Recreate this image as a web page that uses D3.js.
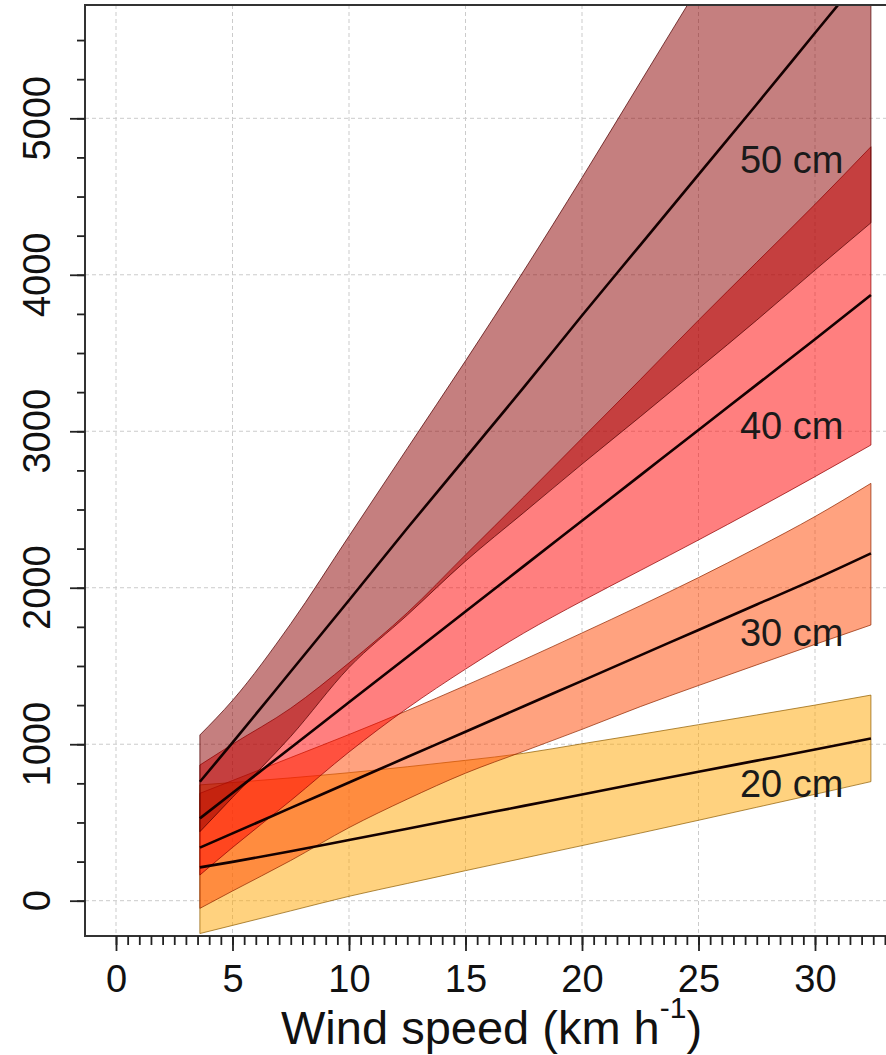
<!DOCTYPE html>
<html>
<head>
<meta charset="utf-8">
<script src="https://cdn.jsdelivr.net/npm/d3@7"></script>
<style>
  body { margin: 0; background: #fff; }
  svg { display: block; }
  text { font-family: "Liberation Sans", Arial, sans-serif; }
</style>
</head>
<body>
<svg id="chart" width="886" height="1055"></svg>
<script>
// Wind speed (km/h) at which the fitted curves are evaluated
const windSpeed = [3.6, 5, 7.5, 10, 12.5, 15, 17.5, 20, 22.5, 25, 27.5, 30, 32.4];

// Height classes
const heightLabels = ["20 cm", "30 cm", "40 cm", "50 cm"];

// 20 cm: fitted mean and interval bounds
const mean20  = [213, 248, 316, 388, 460, 533, 606, 679, 752, 824, 895, 966, 1037];
const lower20 = [-210, -158, -65, 28, 110, 192, 272, 352, 432, 514, 597, 680, 761];
const upper20 = [740, 755, 785, 818, 856, 897, 942, 1003, 1063, 1125, 1187, 1250, 1314];

// 30 cm
const mean30  = [339, 430, 593, 755, 918, 1080, 1243, 1405, 1568, 1730, 1893, 2055, 2220];
const lower30 = [-49, 62, 257, 467, 649, 815, 955, 1095, 1240, 1375, 1507, 1638, 1762];
const upper30 = [686, 768, 915, 1062, 1215, 1375, 1540, 1711, 1885, 2065, 2255, 2455, 2667];

// 40 cm
const mean40  = [526, 688, 978, 1268, 1558, 1848, 2138, 2428, 2718, 3008, 3298, 3588, 3871];
const lower40 = [164, 340, 640, 950, 1230, 1480, 1710, 1915, 2110, 2305, 2505, 2710, 2912];
const upper40 = [867, 1000, 1230, 1520, 1840, 2210, 2580, 2955, 3330, 3710, 4080, 4450, 4818];

// 50 cm
const mean50  = [760, 1010, 1465, 1920, 2380, 2830, 3280, 3740, 4190, 4640, 5090, 5545, 5980];
const lower50 = [441, 660, 1050, 1490, 1825, 2170, 2480, 2790, 3093, 3400, 3710, 4030, 4332];
const upper50 = [1059, 1280, 1770, 2330, 2890, 3450, 4025, 4620, 5230, 5840, 6450, 7060, 7640];

// Axis ticks
const xTicks = [0, 5, 10, 15, 20, 25, 30];
const yTicks = [0, 1000, 2000, 3000, 4000, 5000];

// In-plot label positions (data units)
const labelSpeed = 29;
const labelValue = [748, 1717, 3040, 4740];

// Band fill colours (drawn half transparent)
const bandColors = ["rgb(255,165,0)", "rgb(255,69,0)", "rgb(255,0,0)", "rgb(139,0,0)"];

const series = [
  { mean: mean20, lower: lower20, upper: upper20 },
  { mean: mean30, lower: lower30, upper: upper30 },
  { mean: mean40, lower: lower40, upper: upper40 },
  { mean: mean50, lower: lower50, upper: upper50 }
];

const svg = d3.select("#chart");

const x = d3.scaleLinear().domain([0, 30]).range([116, 815]);
const y = d3.scaleLinear().domain([0, 5000]).range([900.7, 118.3]);

const plot = { left: 85, top: 5, right: 990, bottom: 936 };

svg.append("defs").append("clipPath").attr("id", "plotClip")
  .append("rect")
  .attr("x", plot.left).attr("y", plot.top)
  .attr("width", plot.right - plot.left).attr("height", plot.bottom - plot.top);

// Grid
const grid = svg.append("g").attr("stroke", "#cbcbcb").attr("stroke-width", 1)
  .attr("stroke-dasharray", "4,3");
grid.selectAll("line.v").data(xTicks).join("line")
  .attr("x1", d => x(d)).attr("x2", d => x(d))
  .attr("y1", plot.top).attr("y2", plot.bottom);
grid.selectAll("line.h").data(yTicks).join("line")
  .attr("x1", plot.left).attr("x2", plot.right)
  .attr("y1", d => y(d)).attr("y2", d => y(d));

const body = svg.append("g").attr("clip-path", "url(#plotClip)");

const area = d3.area()
  .x((d, i) => x(windSpeed[i]))
  .y0(d => y(d[0]))
  .y1(d => y(d[1]))
  .curve(d3.curveMonotoneX);

const line = d3.line()
  .x((d, i) => x(windSpeed[i]))
  .y(d => y(d))
  .curve(d3.curveMonotoneX);

// Interval bands
series.forEach((s, k) => {
  const pts = s.lower.map((v, i) => [v, s.upper[i]]);
  body.append("path")
    .datum(pts)
    .attr("d", area)
    .attr("fill", bandColors[k])
    .attr("fill-opacity", 0.5)
    .attr("stroke", d3.color(bandColors[k]).darker(1.6))
    .attr("stroke-opacity", 0.8)
    .attr("stroke-width", 0.9);
});

// Fitted mean lines
series.forEach(s => {
  body.append("path")
    .datum(s.mean)
    .attr("d", line)
    .attr("fill", "none")
    .attr("stroke", "#140000")
    .attr("stroke-width", 2.6);
});

// Height labels
svg.append("g").selectAll("text").data(heightLabels).join("text")
  .attr("x", x(labelSpeed))
  .attr("y", (d, i) => y(labelValue[i]))
  .attr("dy", "0.36em")
  .attr("text-anchor", "middle")
  .attr("font-size", 38)
  .attr("fill", "#1a1a1a")
  .text(d => d);

// Frame
svg.append("rect")
  .attr("x", plot.left).attr("y", plot.top)
  .attr("width", plot.right - plot.left).attr("height", plot.bottom - plot.top)
  .attr("fill", "none").attr("stroke", "#333").attr("stroke-width", 2);

// X axis: major ticks with labels, minor ticks every 0.5
const xMajor = svg.append("g").attr("transform", `translate(0,${plot.bottom})`)
  .call(d3.axisBottom(x).tickValues(xTicks).tickSize(15).tickPadding(14).tickFormat(d3.format("d")));
const xMinor = svg.append("g").attr("transform", `translate(0,${plot.bottom})`)
  .call(d3.axisBottom(x).tickValues(d3.range(0, 33.01, 0.5)).tickSize(9).tickFormat(""));

// Y axis: major ticks every 1000, minor every 250
const yMajor = svg.append("g").attr("transform", `translate(${plot.left},0)`)
  .call(d3.axisLeft(y).tickValues(yTicks).tickSize(15).tickFormat(""));
const yMinor = svg.append("g").attr("transform", `translate(${plot.left},0)`)
  .call(d3.axisLeft(y).tickValues(d3.range(0, 5501, 250)).tickSize(8).tickFormat(""));

[xMajor, xMinor, yMajor, yMinor].forEach(g => {
  g.select(".domain").remove();
  g.selectAll(".tick line").attr("stroke", "#222").attr("stroke-width", 1.8);
});
xMajor.selectAll(".tick text").attr("font-size", 38).attr("fill", "#111")
  .attr("font-family", "Liberation Sans, Arial, sans-serif");

// Rotated y tick labels
svg.append("g").selectAll("text").data(yTicks).join("text")
  .attr("transform", d => `translate(50,${y(d)}) rotate(-90)`)
  .attr("text-anchor", "middle")
  .attr("font-size", 38)
  .attr("fill", "#111")
  .text(d => d);

// X axis title with superscript
const title = svg.append("text")
  .attr("x", 281).attr("y", 1044)
  .attr("font-size", 47)
  .attr("fill", "#111");
title.append("tspan").text("Wind speed (km h");
title.append("tspan").attr("font-size", 30).attr("dy", -26).text("-1");
title.append("tspan").attr("dy", 26).text(")");
</script>
</body>
</html>
